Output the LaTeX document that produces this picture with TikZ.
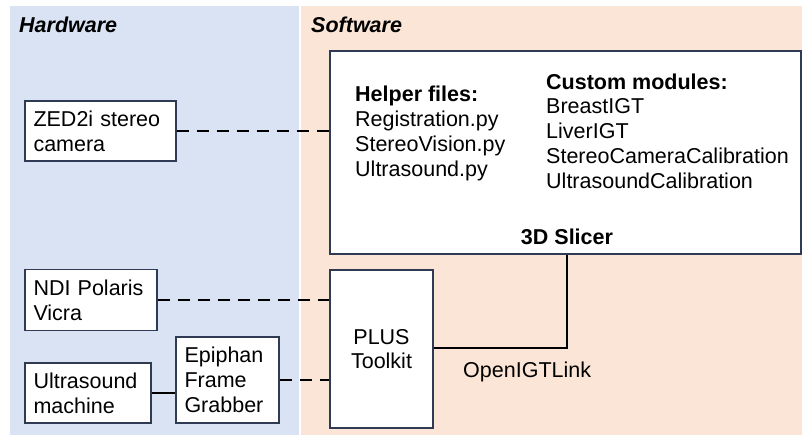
\documentclass[tikz,border=0pt]{standalone}
\usepackage{fontspec}
\setmainfont{Liberation Sans}
\definecolor{hwbg}{HTML}{DAE3F3}
\definecolor{swbg}{HTML}{FBE5D6}
\definecolor{boxline}{HTML}{2F3B55}
\begin{document}
\begin{tikzpicture}[x=1pt,y=-1pt,
  font=\fontsize{21.5}{24.8}\selectfont,
  box/.style={draw=boxline, line width=1.3pt, fill=white, inner xsep=8.5pt, inner ysep=0pt, align=left},
  conn/.style={line width=2.8pt, black},
  dconn/.style={conn, dash pattern=on 12pt off 8pt},
  txt/.style={inner sep=0pt, align=left, anchor=west},
  title/.style={inner sep=0pt, anchor=west, font=\fontsize{21.5}{24.8}\selectfont\bfseries\itshape}
  ]
\useasboundingbox (0,0) rectangle (802,435);
\fill[hwbg] (10,6) rectangle (298.5,435);
\fill[swbg] (300.5,6) rectangle (802,435);
\node[title] (hwt) at (19,25) {Hardware};
\node[title] (swt) at (311,25) {Software};

% Software boxes
\node[box, minimum width=471pt, minimum height=203pt] (slicer) at (565.5,152.5) {};
\node[txt] (helper) at (355,133.5) {\textbf{Helper files:}\\Registration.py\\StereoVision.py\\Ultrasound.py};
\node[txt] (custom) at (546,131) {\textbf{Custom modules:}\\BreastIGT\\LiverIGT\\StereoCameraCalibration\\UltrasoundCalibration};
\node[inner sep=0pt, font=\fontsize{21.5}{24.8}\selectfont\bfseries] (slt) at (567,237) {3D Slicer};
\node[box, align=center, text width=86pt, minimum height=158pt] (plus) at (381.5,349) {PLUS\\Toolkit};

% Hardware boxes
\node[box, text width=134pt, minimum height=60pt] (zed) at (100.5,131) {ZED2i stereo\\camera};
\node[box, text width=115pt, minimum height=61pt] (ndi) at (91,300) {NDI Polaris\\Vicra};
\node[box, text width=109pt, minimum height=60pt] (us) at (88,393) {Ultrasound\\machine};
\node[box, text width=86pt, minimum height=86pt] (epi) at (227.5,380) {Epiphan\\Frame\\Grabber};

% Connectors
\draw[dconn] (zed.east) -- (zed.east -| slicer.west);
\draw[dconn] (ndi.east) -- (ndi.east -| plus.west);
\draw[conn] (us.east) -- (us.east -| epi.west);
\draw[dconn] (epi.east) -- (epi.east -| plus.west);
\coordinate (bend) at (567,348);
\draw[conn] (plus.east |- bend) -- (bend) -- (bend |- slicer.south);
\node[txt] (igt) at (463,372) {OpenIGTLink};
\end{tikzpicture}
\end{document}
